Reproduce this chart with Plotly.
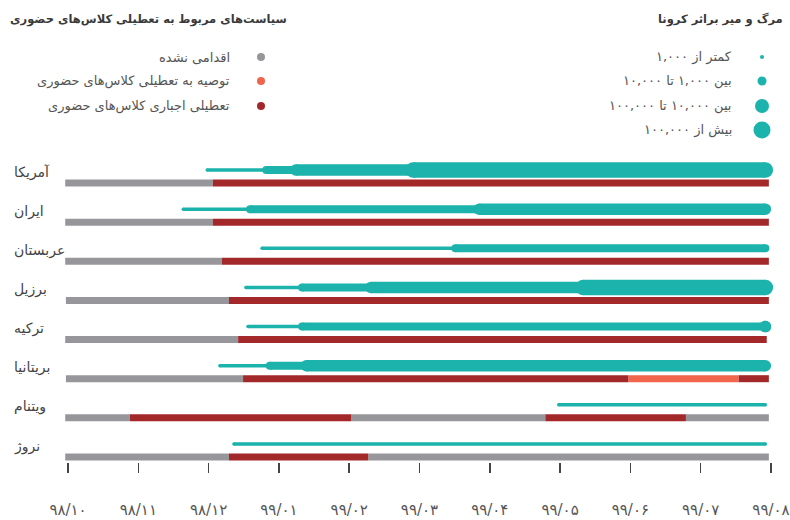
import plotly.graph_objects as go

# ---------------- data ----------------
countries = ["آمریکا", "ایران", "عربستان", "برزیل", "ترکیه", "بریتانیا", "ویتنام", "نروژ"]

month_ticks = [0, 1, 2, 3, 4, 5, 6, 7, 8, 9, 10]
month_labels = ["۹۸/۱۰", "۹۸/۱۱", "۹۸/۱۲", "۹۹/۰۱", "۹۹/۰۲", "۹۹/۰۳",
                "۹۹/۰۴", "۹۹/۰۵", "۹۹/۰۶", "۹۹/۰۷", "۹۹/۰۸"]

# school-closure policy segments (x in months since 98/10/01)
# status: 0 = no action, 1 = recommended closure, 2 = mandatory closure
policy_country = [0, 0, 1, 1, 2, 2, 3, 3, 4, 4, 5, 5, 5, 5, 6, 6, 6, 6, 6, 7, 7, 7]
policy_start = [-0.04, 2.06, -0.04, 2.06, -0.04, 2.19, -0.03, 2.29, -0.04, 2.42,
                -0.03, 2.49, 7.97, 9.54, -0.04, 0.88, 4.03, 6.79, 8.79, -0.04, 2.29, 4.27]
policy_end = [2.06, 9.97, 2.06, 9.97, 2.19, 9.97, 2.29, 9.97, 2.42, 9.94,
              2.49, 7.97, 9.54, 9.97, 0.88, 4.03, 6.79, 8.79, 9.97, 2.29, 4.27, 9.97]
policy_status = [0, 2, 0, 2, 0, 2, 0, 2, 0, 2, 0, 2, 1, 2, 0, 2, 0, 2, 0, 0, 2, 0]

# COVID deaths level segments
# level: 1 = <1,000, 2 = 1,000-10,000, 3 = 10,000-100,000, 4 = >100,000
death_country = [0, 0, 0, 0, 1, 1, 1, 2, 2, 3, 3, 3, 3, 4, 4, 4, 5, 5, 5, 6, 7]
death_start = [1.98, 2.82, 3.24, 4.91, 1.64, 2.59, 5.85, 2.76, 5.51, 2.53, 3.33, 4.31, 7.33,
               2.56, 3.33, 9.92, 2.16, 2.87, 3.39, 6.98, 2.36]
death_end = [2.82, 3.24, 4.91, 9.92, 2.59, 5.85, 9.92, 5.51, 9.92, 3.33, 4.31, 7.33, 9.92,
             3.33, 9.92, 9.92, 2.87, 3.39, 9.92, 9.92, 9.92]
death_level = [1, 2, 3, 4, 1, 2, 3, 1, 2, 1, 2, 3, 4, 1, 2, 3, 1, 2, 3, 1, 1]

policy_legend_labels = ["اقدامی نشده",
                        "توصیه به تعطیلی کلاس\u200cهای حضوری",
                        "تعطیلی اجباری کلاس\u200cهای حضوری"]
death_legend_labels = ["کمتر از ۱,۰۰۰", "بین ۱,۰۰۰ تا ۱۰,۰۰۰",
                       "بین ۱۰,۰۰۰ تا ۱۰۰,۰۰۰", "بیش از ۱۰۰,۰۰۰"]
policy_title = "سیاست\u200cهای مربوط به تعطیلی کلاس\u200cهای حضوری"
death_title = "مرگ و میر براثر کرونا"

# ---------------- styles ----------------
FONT = "DejaVu Sans, Noto Sans, sans-serif"
TEAL = "#1bb3ab"
policy_colors = {0: "#97979b", 1: "#f0654c", 2: "#a3282a"}
line_widths = {1: 3.5, 2: 8, 3: 11.5, 4: 15.5}
legend_dot_sizes = [4, 9, 14, 17]
BAR_H = 0.179
TEAL_OFFSET = 0.332

fig = go.Figure()

# policy bars
for status in [0, 1, 2]:
    idx = [i for i, s in enumerate(policy_status) if s == status]
    fig.add_trace(go.Bar(
        orientation="h",
        y=[policy_country[i] for i in idx],
        base=[policy_start[i] for i in idx],
        x=[policy_end[i] - policy_start[i] for i in idx],
        width=BAR_H,
        marker=dict(color=policy_colors[status], line=dict(width=0)),
        showlegend=False, hoverinfo="skip",
        xaxis="x", yaxis="y",
    ))

# deaths lines (one trace per level, round ends via markers)
for lvl in [1, 2, 3, 4]:
    xs, ys = [], []
    for i, l in enumerate(death_level):
        if l == lvl:
            yv = death_country[i] - TEAL_OFFSET
            xs += [death_start[i], death_end[i], None]
            ys += [yv, yv, None]
    fig.add_trace(go.Scatter(
        x=xs, y=ys, mode="lines+markers",
        line=dict(color=TEAL, width=line_widths[lvl]),
        marker=dict(color=TEAL, size=line_widths[lvl], line=dict(width=0), opacity=1),
        showlegend=False, hoverinfo="skip", xaxis="x", yaxis="y",
    ))

# custom legend (overlay axes in pixel units)
pol_leg_y = [57, 81, 106]
dth_leg_y = [57, 81, 106, 130]
fig.add_trace(go.Scatter(
    x=[261] * 3, y=pol_leg_y, mode="markers",
    marker=dict(size=8, color=[policy_colors[0], policy_colors[1], policy_colors[2]],
                opacity=1, line=dict(width=0)),
    showlegend=False, hoverinfo="skip", xaxis="x2", yaxis="y2",
))
fig.add_trace(go.Scatter(
    x=[762] * 4, y=dth_leg_y, mode="markers",
    marker=dict(size=legend_dot_sizes, color=TEAL, opacity=1, line=dict(width=0)),
    showlegend=False, hoverinfo="skip", xaxis="x2", yaxis="y2",
))

annotations = []
annotations.append(dict(text="<b>" + policy_title + "</b>", x=289, y=19, xref="x2", yref="y2",
                        xanchor="right", yanchor="middle", showarrow=False,
                        font=dict(family=FONT, size=11.5, color="#3a3a3a")))
annotations.append(dict(text="<b>" + death_title + "</b>", x=785, y=19, xref="x2", yref="y2",
                        xanchor="right", yanchor="middle", showarrow=False,
                        font=dict(family=FONT, size=11.5, color="#3a3a3a")))
for lab, yv in zip(policy_legend_labels, pol_leg_y):
    annotations.append(dict(text=lab, x=232, y=yv, xref="x2", yref="y2",
                            xanchor="right", yanchor="middle", showarrow=False,
                            font=dict(family=FONT, size=13, color="#555555")))
for lab, yv in zip(death_legend_labels, dth_leg_y):
    annotations.append(dict(text=lab, x=734, y=yv, xref="x2", yref="y2",
                            xanchor="right", yanchor="middle", showarrow=False,
                            font=dict(family=FONT, size=13, color="#555555")))
for i, c in enumerate(countries):
    annotations.append(dict(text=c, x=12, y=i - 0.28, xref="x2", yref="y",
                            xanchor="left", yanchor="middle", showarrow=False,
                            font=dict(family=FONT, size=14, color="#444444")))

fig.update_layout(
    width=790, height=520,
    margin=dict(l=0, r=0, t=0, b=58, pad=0, autoexpand=False),
    paper_bgcolor="white", plot_bgcolor="rgba(0,0,0,0)",
    barmode="overlay",
    showlegend=False,
    hovermode=False,
    annotations=annotations,
    xaxis=dict(domain=[61 / 790, 778 / 790], range=[-0.1, 10.1], anchor="y",
               tickmode="array", tickvals=month_ticks, ticktext=month_labels,
               ticks="outside", ticklen=10, tickwidth=1.5, tickcolor="#444444",
               showgrid=False, zeroline=False, showline=False, automargin=False,
               ticklabelstandoff=24,
               tickfont=dict(family=FONT, size=15, color="#555555")),
    yaxis=dict(domain=[0, 312 / 462], range=[7.128, -0.843], anchor="x",
               visible=False, showgrid=False, zeroline=False, automargin=False),
    xaxis2=dict(domain=[0, 1], range=[0, 790], anchor="y2", visible=False, automargin=False),
    yaxis2=dict(domain=[0, 1], range=[462, 0], anchor="x2", visible=False, automargin=False),
)

fig.write_html("out.html", config={"displayModeBar": False, "staticPlot": True},
               post_script="document.body.style.margin='0px';document.body.style.overflow='hidden';")
